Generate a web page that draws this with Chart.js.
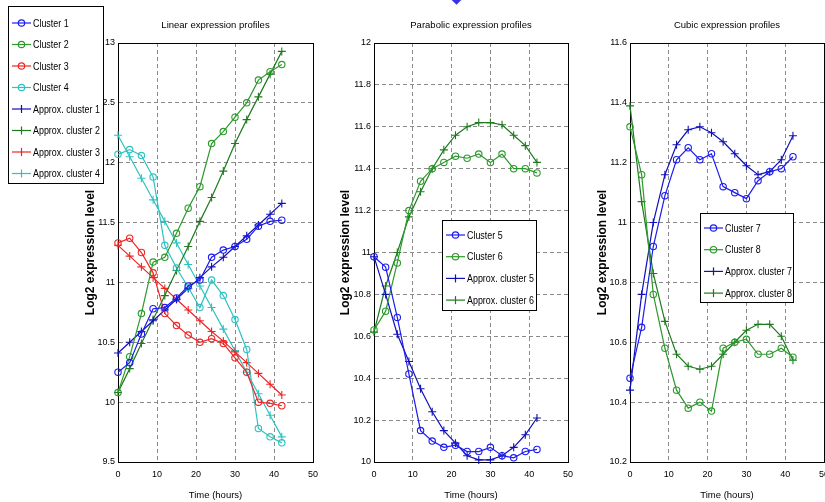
<!DOCTYPE html>
<html>
<head>
<meta charset="utf-8">
<script src="https://cdn.jsdelivr.net/npm/chart.js@4.4.1/dist/chart.umd.min.js"></script>
<style>
    body { margin: 0; background: #fff; }
    #page { position: relative; width: 825px; height: 502px; overflow: hidden; background: #fff; }
    .panel { position: absolute; top: 0; height: 502px; }
    #diamond { position: absolute; left: 452px; top: -6px; width: 9px; height: 9px; background: #3434e6; transform: rotate(45deg); }
</style>
</head>
<body>
<div id="page">
    <div class="panel" style="left:0;width:330px"><canvas id="c1" width="330" height="502"></canvas></div>
    <div class="panel" style="left:330px;width:255px"><canvas id="c2" width="255" height="502"></canvas></div>
    <div class="panel" style="left:585px;width:240px"><canvas id="c3" width="240" height="502"></canvas></div>
    <div id="diamond"></div>
</div>
<script>
// Temps de mesure (heures)
const heures = [0, 3, 6, 9, 12, 15, 18, 21, 24, 27, 30, 33, 36, 39, 42];

// Profils linéaires
const cluster1 = [10.25, 10.33, 10.57, 10.78, 10.79, 10.87, 10.97, 11.02, 11.21, 11.27, 11.30, 11.36, 11.47, 11.51, 11.52];
const cluster2 = [10.08, 10.38, 10.74, 11.17, 11.21, 11.41, 11.62, 11.80, 12.16, 12.26, 12.38, 12.50, 12.69, 12.76, 12.82];
const cluster3 = [11.33, 11.37, 11.25, 11.08, 10.74, 10.64, 10.56, 10.50, 10.53, 10.49, 10.37, 10.25, 10.00, 9.99, 9.97];
const cluster4 = [12.07, 12.11, 12.06, 11.88, 11.31, 11.12, 10.96, 10.79, 11.02, 10.89, 10.69, 10.44, 9.78, 9.71, 9.66];
const approx1 = [10.41, 10.50, 10.59, 10.68, 10.77, 10.86, 10.95, 11.04, 11.13, 11.21, 11.30, 11.39, 11.48, 11.57, 11.66];
const approx2 = [10.08, 10.28, 10.49, 10.69, 10.89, 11.10, 11.30, 11.51, 11.71, 11.93, 12.16, 12.36, 12.55, 12.74, 12.93];
const approx3 = [11.31, 11.22, 11.13, 11.04, 10.95, 10.86, 10.77, 10.68, 10.59, 10.51, 10.42, 10.33, 10.24, 10.15, 10.06];
const approx4 = [12.23, 12.05, 11.87, 11.69, 11.51, 11.33, 11.15, 10.97, 10.79, 10.61, 10.43, 10.25, 10.07, 9.89, 9.71];

// Profils paraboliques
const cluster5 = [10.98, 10.93, 10.69, 10.42, 10.15, 10.10, 10.07, 10.08, 10.05, 10.05, 10.07, 10.03, 10.02, 10.05, 10.06];
const cluster6 = [10.63, 10.72, 10.95, 11.20, 11.34, 11.40, 11.43, 11.46, 11.45, 11.47, 11.43, 11.47, 11.40, 11.40, 11.38];
const approx5 = [10.98, 10.80, 10.61, 10.48, 10.35, 10.24, 10.15, 10.09, 10.03, 10.01, 10.01, 10.03, 10.07, 10.13, 10.21];
const approx6 = [10.62, 10.84, 11.00, 11.17, 11.29, 11.40, 11.49, 11.56, 11.60, 11.62, 11.62, 11.61, 11.56, 11.51, 11.43];

// Profils cubiques
const cluster7 = [10.48, 10.65, 10.92, 11.09, 11.21, 11.25, 11.21, 11.23, 11.12, 11.10, 11.08, 11.14, 11.17, 11.18, 11.22];
const cluster8 = [11.32, 11.16, 10.76, 10.58, 10.44, 10.38, 10.40, 10.37, 10.58, 10.60, 10.61, 10.56, 10.56, 10.58, 10.55];
const approx7 = [10.44, 10.76, 11.00, 11.16, 11.26, 11.31, 11.32, 11.30, 11.27, 11.23, 11.19, 11.16, 11.17, 11.21, 11.29];
const approx8 = [11.39, 11.07, 10.83, 10.67, 10.56, 10.52, 10.51, 10.52, 10.56, 10.60, 10.64, 10.66, 10.66, 10.62, 10.54];

// Couleurs
const BLEU = '#1c1cf0', BLEU_F = '#1010b8';
const VERT = '#2c9a2c', VERT_F = '#1f7a1f';
const ROUGE = '#f02424';
const CYAN = '#2fc2c2';

const POLICE = "'Liberation Sans', Arial, sans-serif";

// Légende encadrée façon MATLAB
const boxLegend = {
    id: 'boxLegend',
    afterDraw(chart, args, opts) {
        const ctx = chart.ctx;
        ctx.save();
        ctx.fillStyle = '#fff';
        ctx.fillRect(opts.left, opts.top, opts.width, opts.height);
        ctx.strokeStyle = '#000';
        ctx.lineWidth = 1;
        ctx.strokeRect(opts.left + 0.5, opts.top + 0.5, opts.width, opts.height);
        ctx.font = '11px ' + POLICE;
        ctx.textBaseline = 'middle';
        chart.data.datasets.forEach((ds, i) => {
            const y = opts.top + opts.first + i * opts.step;
            const x0 = opts.left + 4, x1 = opts.left + 23, xm = (x0 + x1) / 2;
            ctx.strokeStyle = ds.borderColor;
            ctx.lineWidth = ds.borderWidth;
            ctx.beginPath();
            ctx.moveTo(x0, y);
            ctx.lineTo(x1, y);
            ctx.stroke();
            ctx.beginPath();
            if (ds.pointStyle === 'circle') {
                ctx.arc(xm, y, ds.pointRadius, 0, Math.PI * 2);
            } else {
                ctx.moveTo(xm, y - ds.pointRadius);
                ctx.lineTo(xm, y + ds.pointRadius);
            }
            ctx.stroke();
            // texte un peu resserré, comme la police étroite de l'original
            ctx.save();
            ctx.translate(opts.left + 25, y + 0.5);
            ctx.scale(0.81, 1);
            ctx.fillStyle = '#000';
            ctx.fillText(ds.label, 0, 0);
            ctx.restore();
        });
        ctx.restore();
    }
};

function serie(label, valeurs, couleur, approx) {
    return {
        label: label,
        data: heures.map((h, i) => ({ x: h, y: valeurs[i] })),
        borderColor: couleur,
        borderWidth: 1.2,
        pointStyle: approx ? 'cross' : 'circle',
        pointRadius: approx ? 4 : 3.2,
        pointBorderWidth: 1.1,
        pointBackgroundColor: 'rgba(0,0,0,0)',
        pointBorderColor: couleur,
        tension: 0,
        clip: false,
        xAxisID: 'x',
        yAxisID: 'y'
    };
}

function grille(bornes) {
    return (ctx) => (ctx.tick && (ctx.tick.value === bornes[0] || ctx.tick.value === bornes[1])) ? 'rgba(0,0,0,0)' : '#8a8a8a';
}

function creerGraphique(id, titre, datasets, yMin, yMax, yPas, padding, yLarg, legende) {
    const ctx = document.getElementById(id).getContext('2d');
    return new Chart(ctx, {
        type: 'line',
        data: { datasets: datasets },
        plugins: [boxLegend],
        options: {
            responsive: false,
            animation: false,
            layout: { padding: padding, autoPadding: false },
            plugins: {
                legend: { display: false },
                tooltip: { enabled: false },
                boxLegend: legende
            },
            scales: {
                x: {
                    type: 'linear', position: 'bottom', min: 0, max: 50,
                    ticks: { stepSize: 10, padding: 7, color: '#000', font: { family: POLICE, size: 9 }, maxRotation: 0 },
                    grid: { color: grille([0, 50]), drawTicks: false, lineWidth: 1 },
                    border: { display: true, color: '#000', width: 1, dash: [4, 3] },
                    title: { display: true, text: 'Time (hours)', color: '#000', font: { family: POLICE, size: 9.5 }, padding: { top: 0, bottom: 1 } },
                    afterFit: (s) => { s.height = 40; s.paddingLeft = 0; s.paddingRight = 0; }
                },
                x2: {
                    type: 'linear', position: 'top', min: 0, max: 50,
                    ticks: { display: false },
                    grid: { display: false, drawTicks: false },
                    border: { display: true, color: '#000', width: 1 },
                    title: { display: true, text: titre, color: '#000', font: { family: POLICE, size: 9.5 }, padding: { top: 20, bottom: 0 } },
                    afterFit: (s) => { s.height = 43; s.paddingLeft = 0; s.paddingRight = 0; }
                },
                y: {
                    type: 'linear', position: 'left', min: yMin, max: yMax,
                    ticks: {
                        stepSize: yPas, padding: 3, color: '#000', font: { family: POLICE, size: 9 },
                        callback: (v) => String(Number(v.toFixed(1)))
                    },
                    grid: { color: grille([yMin, yMax]), drawTicks: false, lineWidth: 1 },
                    border: { display: true, color: '#000', width: 1, dash: [4, 3] },
                    title: { display: true, text: 'Log2 expression level', color: '#000', font: { family: POLICE, size: 12, weight: 'bold' }, padding: { top: 0, bottom: 0 } },
                    afterFit: (s) => { s.width = yLarg; s.paddingTop = 0; s.paddingBottom = 0; }
                },
                y2: {
                    type: 'linear', position: 'right', min: yMin, max: yMax,
                    ticks: { display: false },
                    grid: { display: false, drawTicks: false },
                    border: { display: true, color: '#000', width: 1 },
                    afterFit: (s) => { s.width = 0; }
                }
            }
        }
    });
}

document.addEventListener('DOMContentLoaded', function() {
    // Graphique 1 : profils linéaires
    creerGraphique('c1', 'Linear expression profiles', [
        serie('Cluster 1', cluster1, BLEU, false),
        serie('Cluster 2', cluster2, VERT, false),
        serie('Cluster 3', cluster3, ROUGE, false),
        serie('Cluster 4', cluster4, CYAN, false),
        serie('Approx. cluster 1', approx1, BLEU_F, true),
        serie('Approx. cluster 2', approx2, VERT_F, true),
        serie('Approx. cluster 3', approx3, ROUGE, true),
        serie('Approx. cluster 4', approx4, CYAN, true)
    ], 9.5, 13, 0.5, { left: 83, right: 17, top: 0, bottom: 0 }, 35,
    { left: 8, top: 6, width: 95, height: 177, first: 17, step: 21.5 });

    // Graphique 2 : profils paraboliques
    creerGraphique('c2', 'Parabolic expression profiles', [
        serie('Cluster 5', cluster5, BLEU, false),
        serie('Cluster 6', cluster6, VERT, false),
        serie('Approx. cluster 5', approx5, BLEU_F, true),
        serie('Approx. cluster 6', approx6, VERT_F, true)
    ], 10, 12, 0.2, { left: 8, right: 17, top: 0, bottom: 0 }, 36,
    { left: 112, top: 220, width: 94, height: 90, first: 15, step: 21.7 });

    // Graphique 3 : profils cubiques
    creerGraphique('c3', 'Cubic expression profiles', [
        serie('Cluster 7', cluster7, BLEU, false),
        serie('Cluster 8', cluster8, VERT, false),
        serie('Approx. cluster 7', approx7, BLEU_F, true),
        serie('Approx. cluster 8', approx8, VERT_F, true)
    ], 10.2, 11.6, 0.2, { left: 10, right: 1, top: 0, bottom: 0 }, 35,
    { left: 115, top: 213, width: 93, height: 89, first: 15, step: 21.7 });
});
</script>
</body>
</html>
